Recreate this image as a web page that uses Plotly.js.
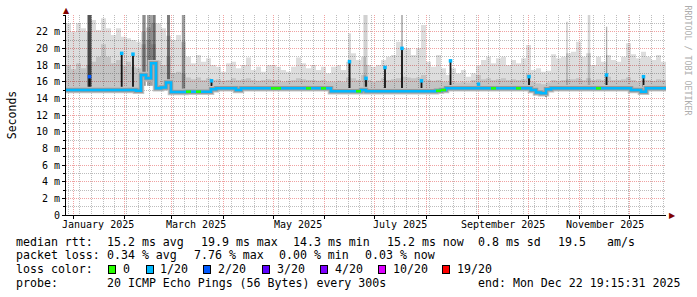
<!DOCTYPE html>
<html><head><meta charset="utf-8">
<script src="https://cdn.plot.ly/plotly-3.0.1.min.js"></script>
<style>html,body{margin:0;padding:0;background:#fff;}#chart{width:697px;height:297px;}</style>
</head><body><div id="chart"></div>
<script>
// ---------- data ----------
const startTime = '2024-12-27 19:15:31';
const endTime = '2025-12-22 19:15:31';
const bucketDays = 3;

// median rtt per 3-day bucket (ms)
const median = [
15.0,15.0,15.0,15.0,15.0,15.0,15.0,15.0,15.0,15.0,
15.0,15.0,15.0,15.0,14.9,16.8,16.4,18.2,15.2,15.3,
15.9,14.75,14.75,14.75,14.8,14.8,14.8,14.8,14.8,15.1,
15.2,15.2,15.2,15.2,15.0,15.2,15.2,15.2,15.2,15.2,
15.2,15.2,15.2,15.2,15.2,15.2,15.2,15.2,15.2,15.2,
15.2,15.2,15.2,14.85,14.85,14.85,14.85,14.85,14.85,15.0,
14.85,14.85,14.85,14.85,14.85,14.85,14.85,14.85,14.85,14.85,
14.85,14.85,14.85,14.85,14.9,15.0,15.2,15.2,15.2,15.2,
15.2,15.2,15.2,15.2,15.2,15.2,15.2,15.2,15.2,15.2,
15.2,15.2,15.2,15.0,14.7,14.6,15.1,15.2,15.2,15.2,
15.2,15.2,15.2,15.2,15.2,15.2,15.2,15.2,15.2,15.2,
15.2,15.2,15.2,15.0,15.0,14.8,15.2,15.2,15.2,15.2];

// top of the light smoke (ms)
const smokeHi = [
23.0,22.0,23.0,22.4,22.0,23.4,22.2,23.6,22.4,21.6,
22.4,21.4,21.2,21.0,20.8,22.0,22.5,23.0,23.0,22.4,
21.5,21.0,21.6,20.8,19.0,18.2,19.2,18.4,18.8,18.0,
17.8,17.2,18.2,18.4,17.6,18.0,18.9,17.4,17.8,17.2,
18.0,18.0,17.8,17.4,17.2,17.8,18.9,18.2,17.6,18.0,
17.4,17.8,17.0,17.8,18.0,17.4,18.4,19.4,18.6,19.0,
18.0,17.8,18.0,18.6,19.0,19.2,20.8,20.0,20.0,19.2,
20.0,22.8,18.4,17.8,19.2,17.6,16.8,17.6,17.0,17.4,
16.6,17.0,18.0,18.6,19.0,18.2,18.8,19.0,18.0,18.6,
18.2,18.8,20.4,17.4,17.6,17.2,17.3,19.3,18.8,19.0,
19.4,19.6,20.8,19.0,19.4,18.0,19.0,18.4,19.2,18.6,
18.4,19.0,20.6,19.3,18.8,19.6,19.0,18.6,19.2,18.4];

// top of the denser (mid) smoke (ms)
const smokeMid = [
18.0,17.5,18.2,17.6,18.0,18.4,19.0,20.5,19.0,18.2,
18.6,18.0,18.4,17.8,17.6,20.5,21.0,20.5,18.5,18.0,
19.0,17.0,17.2,17.0,16.5,16.3,16.5,16.2,16.4,16.2,
16.3,16.1,16.2,16.4,16.2,16.3,16.4,16.2,16.1,16.2,
16.3,16.2,16.2,16.0,16.1,16.2,16.4,16.3,16.2,16.2,
16.1,16.2,16.0,16.0,16.1,16.0,16.5,16.4,16.2,16.8,
16.2,16.0,16.1,16.4,16.2,16.3,16.4,16.6,16.5,16.4,
16.5,16.8,16.2,16.1,16.2,16.0,16.0,16.0,15.9,16.0,
15.9,16.2,16.8,16.3,16.4,16.2,16.3,16.4,16.2,16.3,
16.2,16.3,17.0,16.0,15.8,15.7,15.9,16.2,16.1,16.2,
16.3,16.3,16.4,16.2,16.4,16.2,16.3,16.2,16.6,16.2,
16.2,16.3,16.5,16.2,16.0,16.2,16.2,16.1,16.3,16.2];

// loss class per bucket (index into lossLabels)
const lossIdx = [
1,1,1,1,1,1,1,1,1,1, 1,1,1,1,1,1,1,1,1,1,
1,1,1,1,0,1,0,1,1,1, 1,1,1,1,1,1,1,1,1,1,
1,0,0,1,1,1,1,1,0,1, 1,0,1,1,1,1,1,1,0,1,
1,1,1,1,1,1,1,1,1,1, 1,1,1,1,0,0,1,1,1,1,
1,1,1,1,1,0,1,1,1,1, 0,1,1,1,1,1,1,1,1,1,
1,1,1,1,1,1,0,1,1,1, 1,1,1,1,1,1,1,1,1,1];

// short median excursions (spikes / dips)
const spikeTime = ['2025-01-10 21:40','2025-01-30 05:15','2025-02-06 00:00','2025-03-25 02:30','2025-04-10 00:00',
  '2025-06-15 21:40','2025-06-25 19:15','2025-07-07 04:50','2025-07-17 09:40','2025-07-29 02:30',
  '2025-08-15 12:05','2025-09-01 07:15','2025-10-01 14:30','2025-10-11 19:15','2025-11-17 02:30',
  '2025-12-09 07:15','2025-12-10 04:50'];
const spikeFrom = [15.0,15.0,15.0,14.8,15.2,14.85,14.85,14.85,14.85,14.85,15.2,15.2,15.2,15.0,15.2,14.8,15.0];
const spikeTo   = [16.6,19.4,19.3,16.1,14.95,18.4,16.4,17.7,20.0,16.1,18.5,15.7,16.6,14.2,16.8,16.6,14.6];
const spikeLoss = [2,1,1,1,-1,1,1,1,1,1,1,1,1,-1,1,1,-1];

// tall smoke columns (sparse high pings)
const colTime = ['2025-01-10 21:40','2025-02-12 14:30','2025-02-15 21:40','2025-02-18 14:30','2025-02-27 07:15',
  '2025-03-08 07:15','2025-06-16 00:00','2025-06-25 12:00','2025-07-17 09:40','2025-10-24 09:40',
  '2025-11-06 14:30','2025-11-17 04:00'];
const colFrom = [15.0,15.5,15.5,15.5,15.0,14.8,14.9,14.9,14.9,15.2,15.2,15.2];
const colTo   = [24,24,24,24,24,24,21.8,24,24,23.2,24,22.6];
const colDays = [2.4,2.0,3.0,2.0,1.8,2.0,1.5,2.5,0.8,1.2,1.5,0.8];
const colDensity = [0.67,0.45,0.36,0.52,0.51,0.38,0.16,0.18,0.40,0.16,0.17,0.31];

const lossLabels = ['0','1/20','2/20','3/20','4/20','10/20','19/20'];
const lossColors = ['#26ff00','#00b8ff','#0059ff','#5e00ff','#7e00ff','#dd00ff','#ff0000'];

const yTickVals = [0,2,4,6,8,10,12,14,16,18,20,22];
const yTickText = ['0','2 m','4 m','6 m','8 m','10 m','12 m','14 m','16 m','18 m','20 m','22 m'];
const monthLabels = ['January 2025','March 2025','May 2025','July 2025','September 2025','November 2025'];

const rttStats = ['15.2 ms avg','19.9 ms max','14.3 ms min','15.2 ms now','0.8 ms sd','19.5','am/s'];
const lossStats = ['0.34 % avg','7.76 % max','0.00 % min','0.03 % now'];
const probeText = '20 ICMP Echo Pings (56 Bytes) every 300s';
const endText = 'end: Mon Dec 22 19:15:31 2025';

// ---------- helpers ----------
const DAY = 86400000;
const fmt = ms => new Date(ms).toISOString().slice(0,19).replace('T',' ');
const toMs = s => Date.parse(s.replace(' ','T')+'Z');
const t0 = toMs(startTime);
const bucketX = median.map((_, i) => fmt(t0 + i*bucketDays*DAY));
const stepX = bucketX.concat([fmt(t0 + median.length*bucketDays*DAY)]);
const stepY = a => a.concat([a[a.length-1]]);

const traces = [];
const noHover = {hoverinfo:'skip', showlegend:false};
// light smoke
traces.push(Object.assign({x:stepX, y:stepY(median), mode:'lines', line:{width:0, shape:'hv'}}, noHover));
traces.push(Object.assign({x:stepX, y:stepY(smokeHi), mode:'lines', line:{width:0, shape:'hv'}, fill:'tonexty', fillcolor:'rgba(0,0,0,0.135)'}, noHover));
// denser smoke
traces.push(Object.assign({x:stepX, y:stepY(median), mode:'lines', line:{width:0, shape:'hv'}}, noHover));
traces.push(Object.assign({x:stepX, y:stepY(smokeMid), mode:'lines', line:{width:0, shape:'hv'}, fill:'tonexty', fillcolor:'rgba(0,0,0,0.11)'}, noHover));
// tall columns
traces.push(Object.assign({type:'bar', x:colTime, base:colFrom, y:colTo.map((v,i)=>v-colFrom[i]),
  width:colDays.map(d=>d*DAY), marker:{color:colDensity.map(a=>'rgba(0,0,0,'+a+')'), line:{width:0}}}, noHover));
// smoke core around the median
traces.push(Object.assign({x:stepX, y:stepY(median), mode:'lines', line:{width:6.5, shape:'hv', color:'#c4c4c4'}}, noHover));
traces.push(Object.assign({x:stepX, y:stepY(median), mode:'lines', line:{width:4.5, shape:'hv', color:'#9a9a9a'}}, noHover));
// median line (1/20 colour as base)
traces.push(Object.assign({x:stepX, y:stepY(median), mode:'lines', line:{width:2.5, shape:'hv', color:lossColors[1]}}, noHover));
// other loss classes as segments
for (let k = 0; k < lossColors.length; k++) {
  if (k === 1) continue;
  const sx = [], sy = [];
  lossIdx.forEach((c, i) => {
    if (c === k) { sx.push(stepX[i], stepX[i+1], null); sy.push(median[i], median[i], null); }
  });
  if (sx.length) traces.push(Object.assign({x:sx, y:sy, mode:'lines', line:{width:2.5, color:lossColors[k]}, connectgaps:false}, noHover));
}
// spikes
traces.push(Object.assign({type:'bar', x:spikeTime, base:spikeFrom, y:spikeTo.map((v,i)=>v-spikeFrom[i]),
  width:1.1*DAY, marker:{color:'#1c1c1c', line:{width:0}}}, noHover));
traces.push(Object.assign({x:spikeTime, y:spikeTo, mode:'markers',
  marker:{symbol:'square', size:3.5, color:spikeLoss.map(k=> k<0 ? 'rgba(0,0,0,0)' : lossColors[k]), line:{width:0}}}, noHover));

// ---------- axes ----------
const monthStarts = [], monthBlank = [];
for (let m = 0; m < 12; m++) { monthStarts.push(fmt(Date.UTC(2025, m, 1))); monthBlank.push(''); }
const labelDates = [0,2,4,6,8,10].map(m => fmt(Date.UTC(2025, m, 16)));
const weekTicks = [];
for (let t = Date.UTC(2024,11,29); t < toMs(endTime); t += 7*DAY) weekTicks.push(fmt(t));

const MONO = 'DejaVu Sans Mono';
const MGRID = '#f0a2a2', GRID = '#bdbdbd';
const px = v => (v - 66) / 600;
const py = v => (215 - v) / 200;

const annotations = [];
function txt(x, y, s, extra) {
  annotations.push(Object.assign({xref:'paper', yref:'paper', x:px(x), y:py(y), xanchor:'left', yanchor:'middle',
    text:s.replace(/ /g,'\u00a0'), showarrow:false, borderpad:0, borderwidth:0,
    font:{family:MONO, size:11.6, color:'#000'}}, extra||{}));
}
// month labels, placed on the time axis
labelDates.forEach((d, i) => annotations.push({xref:'x', yref:'paper', x:d, y:py(224.5), xanchor:'center', yanchor:'middle',
  text:monthLabels[i].replace(/ /g,'\u00a0'), showarrow:false, borderpad:0, borderwidth:0,
  font:{family:MONO, size:10, color:'#000'}}));
// legend rows
const rttX = [107.3, 201, 293.3, 386.7, 478.3, 558.3, 607.3];
txt(16, 241.7, 'median rtt:');
rttStats.forEach((s,i)=>txt(rttX[i], 241.7, s));
const lossX = [107.3, 193.5, 279.3, 365];
txt(16, 255.3, 'packet loss:');
lossStats.forEach((s,i)=>txt(lossX[i], 255.3, s));
txt(16, 269.3, 'loss color:');
const boxX = [108, 145.7, 203, 262, 320, 378, 442];
lossLabels.forEach((s,i)=>{
  annotations.push({xref:'paper', yref:'paper', x:px(boxX[i]), y:py(269.5), xanchor:'left', yanchor:'middle',
    text:'\u00a0', width:6, height:7, bgcolor:lossColors[i], bordercolor:'#000', borderwidth:1, borderpad:0,
    showarrow:false, font:{family:MONO, size:4}});
  txt(boxX[i] + 14.7, 269.3, s);
});
txt(16, 283.3, 'probe:');
txt(107.3, 283.3, probeText);
txt(478.3, 283.3, endText);
// arrows and watermark
annotations.push({xref:'paper', yref:'paper', x:px(66.5), y:py(11), text:'\u25B2', showarrow:false,
  xanchor:'center', yanchor:'middle', font:{family:'DejaVu Sans', size:8, color:'#800000'}});
annotations.push({xref:'paper', yref:'paper', x:px(672), y:py(215), text:'\u25B6', showarrow:false,
  xanchor:'center', yanchor:'middle', font:{family:'DejaVu Sans', size:8, color:'#800000'}});
annotations.push({xref:'paper', yref:'paper', x:px(687.5), y:py(60), text:'RRDTOOL / TOBI OETIKER'.replace(/ /g,'\u00a0'),
  textangle:90, showarrow:false, xanchor:'center', yanchor:'middle', font:{family:MONO, size:8.3, color:'#adadad'}});

const layout = {
  width:697, height:297, margin:{l:66, r:31, t:15, b:82, pad:0},
  paper_bgcolor:'#fff', plot_bgcolor:'#fff', showlegend:false, barmode:'overlay', hovermode:false,
  font:{family:MONO, size:10, color:'#000'},
  xaxis:{type:'date', range:[startTime, endTime], tickmode:'array', tickvals:monthStarts, ticktext:monthBlank,
    showgrid:true, gridcolor:MGRID, griddash:'1px,1px', gridwidth:1, ticks:'outside', ticklen:3, tickcolor:'#000',
    showline:true, linecolor:'#000', linewidth:1, zeroline:false, fixedrange:true,
    minor:{tickmode:'array', tickvals:weekTicks, showgrid:true, gridcolor:GRID, griddash:'1px,1px', gridwidth:1, ticks:'', ticklen:0}},
  yaxis:{range:[0,24], tickmode:'array', tickvals:yTickVals, ticktext:yTickText,
    showgrid:true, gridcolor:MGRID, griddash:'1px,1px', gridwidth:1, ticks:'outside', ticklen:3, tickcolor:'#000',
    showline:true, linecolor:'#000', linewidth:1, zeroline:false, fixedrange:true,
    tickfont:{family:MONO, size:10, color:'#000'},
    minor:{tickmode:'linear', tick0:0, dtick:1, showgrid:true, gridcolor:GRID, griddash:'1px,1px', gridwidth:1, ticks:'outside', ticklen:2, tickcolor:'#000'},
    title:{text:'Seconds', font:{family:MONO, size:11.5, color:'#000'}, standoff:16}},
  annotations:annotations
};
Plotly.newPlot('chart', traces, layout, {staticPlot:true, displayModeBar:false});
</script></body></html>
